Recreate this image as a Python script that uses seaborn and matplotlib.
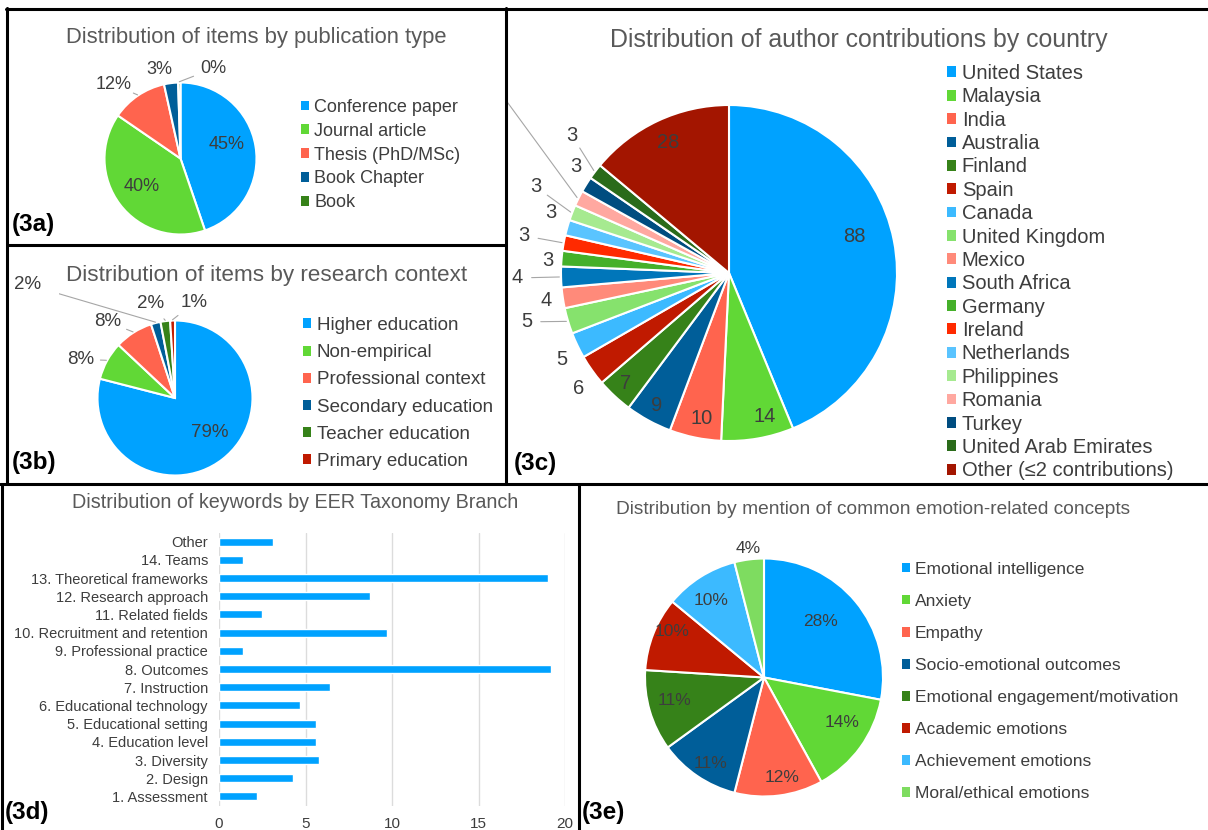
import numpy as np
import pandas as pd
import seaborn as sns
import matplotlib.pyplot as plt
from matplotlib.patches import Patch
from matplotlib.lines import Line2D
from matplotlib.transforms import Bbox, TransformedBbox

W, H = 1208, 830

# ---- data ----
pub_types = ['Conference paper', 'Journal article', 'Thesis (PhD/MSc)', 'Book Chapter', 'Book']
pub_counts = [90, 80, 24, 6, 1]

contexts = ['Higher education', 'Non-empirical', 'Professional context',
            'Secondary education', 'Teacher education', 'Primary education']
context_pct = [79, 8, 8, 2, 2, 1]

countries = ['United States', 'Malaysia', 'India', 'Australia', 'Finland', 'Spain',
             'Canada', 'United Kingdom', 'Mexico', 'South Africa', 'Germany', 'Ireland',
             'Netherlands', 'Philippines', 'Romania', 'Turkey', 'United Arab Emirates',
             'Other (≤2 contributions)']
country_counts = [88, 14, 10, 9, 7, 6, 5, 5, 4, 4, 3, 3, 3, 3, 3, 3, 3, 28]

branches = ['Other', '14. Teams', '13. Theoretical frameworks', '12. Research approach',
            '11. Related fields', '10. Recruitment and retention', '9. Professional practice',
            '8. Outcomes', '7. Instruction', '6. Educational technology',
            '5. Educational setting', '4. Education level', '3. Diversity', '2. Design',
            '1. Assessment']
branch_counts = [3.1, 1.4, 19.0, 8.7, 2.5, 9.7, 1.4, 19.2, 6.4, 4.7, 5.6, 5.6, 5.8, 4.3, 2.2]

concepts = ['Emotional intelligence', 'Anxiety', 'Empathy', 'Socio-emotional outcomes',
            'Emotional engagement/motivation', 'Academic emotions', 'Achievement emotions',
            'Moral/ethical emotions']
concept_pct = [28, 14, 12, 11, 11, 10, 10, 4]

# ---- colours ----
BLUE, GREEN, SALMON = '#00A2FF', '#61D836', '#FF644E'
NAVY, DKGREEN, RED = '#005E99', '#368219', '#C01A00'
pub_colors = [BLUE, GREEN, SALMON, NAVY, DKGREEN]
context_colors = [BLUE, GREEN, SALMON, NAVY, DKGREEN, RED]
country_colors = [BLUE, GREEN, SALMON, NAVY, DKGREEN, RED, '#3CBAFF', '#86E26D',
                  '#FF8A7A', '#0076BA', '#45B02A', '#FF2A00', '#5AC4FF', '#A6EA90',
                  '#FFA8A0', '#004D80', '#2A6B1A', '#A31500']
concept_colors = [BLUE, GREEN, SALMON, NAVY, DKGREEN, RED, '#3CBAFF', '#7EDC60']

TXT = '#3d3d3d'
TITLE = '#595959'

sns.set_theme(style='white')
plt.rcParams['font.family'] = ['Liberation Sans', 'DejaVu Sans']

fig = plt.figure(figsize=(W / 100, H / 100), dpi=100)


def px_box(x, y, w, h):
    return [x / W, 1 - (y + h) / H, w / W, h / H]


def pie_panel(cx, cy, r, values, colors, k=1.5):
    ax = fig.add_axes(px_box(cx - k * r, cy - k * r, 2 * k * r, 2 * k * r))
    wedges, _ = ax.pie(values, colors=colors, startangle=90, counterclock=False,
                       wedgeprops=dict(edgecolor='white', linewidth=1.5))
    ax.set_xlim(-k, k)
    ax.set_ylim(-k, k)
    ax.axis('off')
    mids = [np.deg2rad((w.theta1 + w.theta2) / 2) for w in wedges]
    return ax, mids


def pie_labels(ax, texts, mids, dists, offs, size, gap, clip=None):
    for t, m, d, o in zip(texts, mids, dists, offs):
        a = m + np.deg2rad(o)
        x, y = d * np.cos(a), d * np.sin(a)
        tx = ax.text(x, y, t, ha='center', va='center', fontsize=size, color=TXT)
        if clip is not None:
            tx.set_clip_box(clip)
            tx.set_clip_on(True)
        if d > 1.2:
            ex, ey = 1.01 * np.cos(m), 1.01 * np.sin(m)
            v = np.array([ex - x, ey - y])
            lx, ly = np.array([x, y]) + v / np.linalg.norm(v) * gap
            ln, = ax.plot([ex, lx], [ey, ly], color='#a6a6a6', lw=0.8)
            if clip is not None:
                ln.set_clip_box(clip)


def legend(labels, colors, x, y_top, size, spacing):
    handles = [Patch(facecolor=c, edgecolor='none') for c in colors]
    fig.legend(handles, labels, loc='upper left', bbox_to_anchor=(x / W, 1 - y_top / H),
               frameon=False, borderpad=0, borderaxespad=0, handlelength=0.45,
               handleheight=0.45, handletextpad=0.28, labelspacing=spacing,
               fontsize=size, labelcolor=TXT)


def title(text, x, y, size):
    fig.text(x / W, 1 - y / H, text, ha='center', va='center', fontsize=size, color=TITLE)


def tag(text, x, y):
    fig.text(x / W, 1 - y / H, text, ha='left', va='center', fontsize=17.5,
             fontweight='bold', color='black')


# ---- (3a) publication type ----
ax, mids = pie_panel(180.5, 158.5, 76, pub_counts, pub_colors)
tot = sum(pub_counts)
pie_labels(ax, ['%.0f%%' % (100 * v / tot) for v in pub_counts], mids,
           [0.63, 0.63, 1.31, 1.2, 1.26], [7, -1, 8, 6, -21], 13, 0.28)
title('Distribution of items by publication type', 256, 37, 15.8)
legend(pub_types, pub_colors, 301, 99, 13, 0.375)
tag('(3a)', 12, 224)

# ---- (3b) research context ----
ax, mids = pie_panel(175, 398, 77.5, context_pct, context_colors)
pie_labels(ax, ['%d%%' % v for v in context_pct], mids,
           [0.63, 1.32, 1.31, 2.4, 1.26, 1.25], [7, 6.6, 9, 38, 7, -13], 13.5, 0.26)
title('Distribution of items by research context', 267, 275, 16.2)
legend(contexts, context_colors, 303, 317, 13.5, 0.545)
tag('(3b)', 12, 462)

# ---- (3c) countries ----
panel_c = TransformedBbox(Bbox.from_extents(507 / W, 1 - 483 / H, 1, 1 - 10 / H),
                          fig.transFigure)
ax, mids = pie_panel(729, 273, 168, country_counts, country_colors, k=1.3)
c_dist = [0.78, 0.88, 0.88, 0.9, 0.9, 1.13, 1.12, 1.24, 1.10, 1.26, 1.08, 1.24,
          1.12, 1.26, 1.75, 1.11, 1.24, 0.86]
c_off = [5, 4, 1, 0, 0, 2, 2, -3, 0, 0, 1, 0, -3, -3, -12, -3, -4, 0]
pie_labels(ax, [str(v) for v in country_counts], mids, c_dist, c_off, 14.5, 0.085,
           clip=panel_c)
title('Distribution of author contributions by country', 859, 40, 17.9)
legend(countries, country_colors, 947, 64, 14.5, 0.217)
tag('(3c)', 514, 463)

# ---- (3d) keywords by branch ----
ax = fig.add_axes(px_box(219, 532.5, 346, 273))
df = pd.DataFrame({'branch': branches, 'count': branch_counts})
sns.barplot(data=df, x='count', y='branch', orient='h', color=BLUE, saturation=1,
            width=0.45, ax=ax)
ax.set_xlim(0, 20)
ax.set_xticks([0, 5, 10, 15, 20])
ax.set_xlabel('')
ax.set_ylabel('')
ax.xaxis.grid(True, color='#dcdcdc', lw=1)
ax.set_axisbelow(True)
sns.despine(ax=ax, left=True, bottom=True)
ax.tick_params(axis='y', length=0, pad=8, labelsize=10.5, labelcolor=TXT)
ax.tick_params(axis='x', length=0, pad=8, labelsize=11, labelcolor=TXT)
title('Distribution of keywords by EER Taxonomy Branch', 295, 502, 14.2)
tag('(3d)', 5, 812)

# ---- (3e) emotion-related concepts ----
ax, mids = pie_panel(764, 677.5, 119, concept_pct, concept_colors)
pie_labels(ax, ['%d%%' % v for v in concept_pct], mids,
           [0.67, 0.76, 0.85, 0.85, 0.78, 0.86, 0.78, 1.09], [5, 6, 3, 2, -2, -5, 2, 0],
           12.5, 0.1)
title('Distribution by mention of common emotion-related concepts', 873, 510, 13.8)
legend(concepts, concept_colors, 902, 562, 12.5, 0.98)
tag('(3e)', 582, 812)

# ---- panel borders ----
borders = [((6, 1208), (9.5, 9.5)), ((7.5, 7.5), (8, 484)), ((506, 506), (8, 484)),
           ((7, 506), (245, 245)), ((0, 1208), (484.5, 484.5)), ((2, 2), (484, 830)),
           ((579, 579), (484, 830))]
for xs, ys in borders:
    fig.add_artist(Line2D([x / W for x in xs], [1 - y / H for y in ys],
                          transform=fig.transFigure, color='black', lw=2.2))

fig.savefig('out.png', dpi=100)
